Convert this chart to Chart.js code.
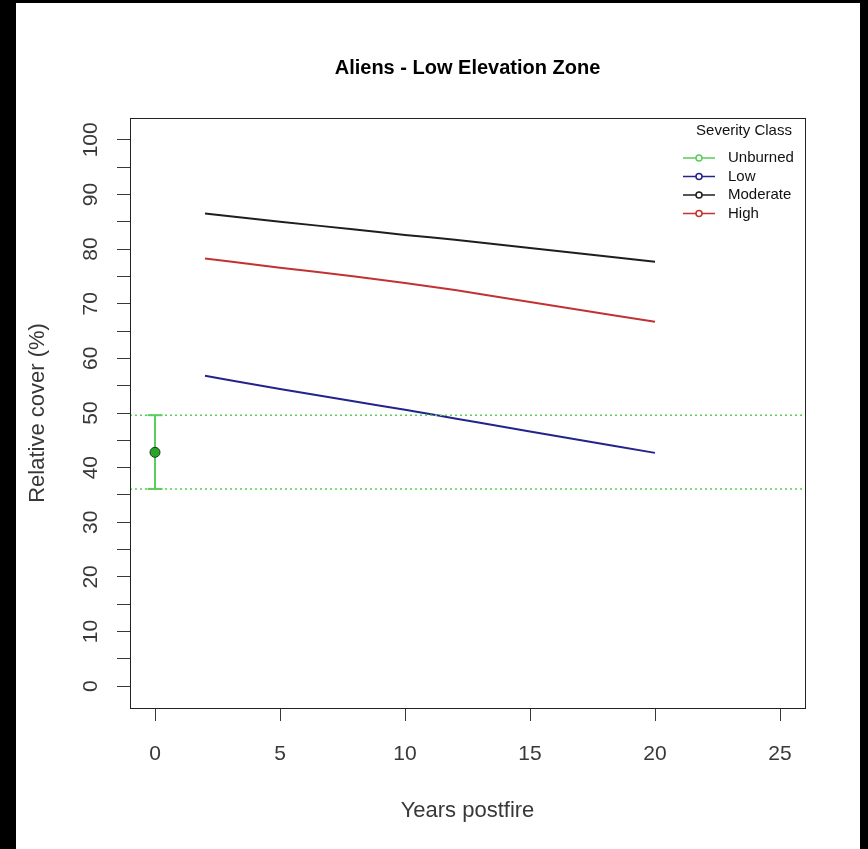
<!DOCTYPE html>
<html>
<head>
<meta charset="utf-8">
<script src="https://cdn.jsdelivr.net/npm/chart.js@4.4.1/dist/chart.umd.min.js"></script>
<style>
  html, body { margin: 0; padding: 0; background: #000; }
  #wrap { position: absolute; left: 16px; top: 3px; width: 844px; height: 846px; background: #fff; }
  canvas { display: block; }
</style>
</head>
<body>
<div id="wrap"><canvas id="coverChart" width="844" height="846"></canvas></div>
<script>
// values
const chartTitle = 'Aliens - Low Elevation Zone';
const fitYears = [2, 5, 8, 10, 12, 15, 20];
const lowCover = [56.8, 54.4, 52.1, 50.6, 49.0, 46.6, 42.7];
const moderateCover = [86.5, 85.0, 83.6, 82.6, 81.7, 80.2, 77.7];
const highCover = [78.3, 76.6, 75.0, 73.8, 72.5, 70.3, 66.7];
const unburnedYear = 0;
const unburnedMean = 42.8;
const unburnedCI = [36.1, 49.6];
const xLimits = [-1, 26];
const yLimits = [-4, 104];
const xTicks = [0, 5, 10, 15, 20, 25];
const yTicks = [0, 5, 10, 15, 20, 25, 30, 35, 40, 45, 50, 55, 60, 65, 70, 75, 80, 85, 90, 95, 100];
const legendTitle = 'Severity Class';
const legendLabels = ['Unburned', 'Low', 'Moderate', 'High'];
const legendColors = ['rgb(90,205,90)', 'rgb(35,35,140)', 'rgb(30,30,30)', 'rgb(195,50,50)'];

const pts = (xs, ys) => xs.map((x, i) => ({x: x, y: ys[i]}));

const tickFont = {family: "'Liberation Sans', Arial, sans-serif", size: 21};
const titleFont = {family: "'Liberation Sans', Arial, sans-serif", size: 22};
const inkGray = '#383838';

// plain box round the plot region, like R's box()
const boxPlugin = {
  id: 'box',
  afterDatasetsDraw(chart) {
    const a = chart.chartArea, c = chart.ctx;
    c.save();
    c.strokeStyle = '#222';
    c.lineWidth = 1;
    c.strokeRect(a.left + 0.5, a.top + 0.5, a.right - a.left, a.bottom - a.top);
    c.restore();
  }
};

// legend inside the top right corner
const legendPlugin = {
  id: 'rLegend',
  afterDraw(chart) {
    const c = chart.ctx;
    c.save();
    c.font = "15px 'Liberation Sans', Arial, sans-serif";
    c.fillStyle = '#111';
    c.textBaseline = 'middle';
    c.textAlign = 'center';
    c.fillText(legendTitle, 728, 128);
    c.textAlign = 'left';
    legendLabels.forEach((lab, i) => {
      const y = 155 + i * 18.5;
      c.strokeStyle = legendColors[i];
      c.lineWidth = 1.5;
      c.beginPath();
      c.moveTo(667, y);
      c.lineTo(699, y);
      c.stroke();
      c.beginPath();
      c.arc(683, y, 3, 0, Math.PI * 2);
      c.fillStyle = '#fff';
      c.fill();
      c.stroke();
      c.fillStyle = '#111';
      c.fillText(lab, 712, y);
    });
    c.restore();
  }
};

const ctx = document.getElementById('coverChart').getContext('2d');
new Chart(ctx, {
  type: 'line',
  data: {
    datasets: [{
      label: 'Unburned mean',
      data: [{x: unburnedYear, y: unburnedMean}],
      showLine: false,
      pointRadius: 5,
      pointBackgroundColor: 'rgb(40,165,40)',
      pointBorderColor: 'rgb(20,60,20)',
      pointBorderWidth: 1
    }, {
      label: 'Unburned CI',
      data: [{x: unburnedYear, y: unburnedCI[0]}, {x: unburnedYear, y: unburnedCI[1]}],
      borderColor: 'rgb(90,205,90)',
      borderWidth: 2,
      pointStyle: 'line',
      pointRadius: 7.5,
      pointBorderColor: 'rgb(90,205,90)',
      pointBorderWidth: 2
    }, {
      label: 'CI upper',
      data: [{x: xLimits[0], y: unburnedCI[1]}, {x: xLimits[1], y: unburnedCI[1]}],
      borderColor: 'rgb(90,205,90)',
      borderWidth: 1.5,
      borderDash: [2, 3],
      pointRadius: 0
    }, {
      label: 'CI lower',
      data: [{x: xLimits[0], y: unburnedCI[0]}, {x: xLimits[1], y: unburnedCI[0]}],
      borderColor: 'rgb(90,205,90)',
      borderWidth: 1.5,
      borderDash: [2, 3],
      pointRadius: 0
    }, {
      label: 'Low',
      data: pts(fitYears, lowCover),
      borderColor: legendColors[1],
      borderWidth: 2,
      cubicInterpolationMode: 'monotone',
      pointRadius: 0
    }, {
      label: 'Moderate',
      data: pts(fitYears, moderateCover),
      borderColor: legendColors[2],
      borderWidth: 2,
      cubicInterpolationMode: 'monotone',
      pointRadius: 0
    }, {
      label: 'High',
      data: pts(fitYears, highCover),
      borderColor: legendColors[3],
      borderWidth: 2,
      cubicInterpolationMode: 'monotone',
      pointRadius: 0
    }]
  },
  options: {
    responsive: false,
    animation: false,
    layout: {padding: {left: 0, right: 55, top: 0, bottom: 0}},
    plugins: {
      legend: {display: false},
      title: {display: false},
      tooltip: {enabled: false}
    },
    scales: {
      x: {
        type: 'linear',
        position: 'bottom',
        min: xLimits[0],
        max: xLimits[1],
        afterBuildTicks: s => { s.ticks = xTicks.map(v => ({value: v})); },
        afterFit: s => { s.height = 141; },
        grid: {display: true, drawOnChartArea: false, drawTicks: true, tickLength: 13, color: inkGray},
        border: {display: false},
        ticks: {color: inkGray, font: tickFont, padding: 21, maxRotation: 0, autoSkip: false},
        title: {display: true, text: 'Years postfire', color: inkGray, font: titleFont, padding: {top: 0, bottom: 25}}
      },
      xTop: {
        type: 'linear',
        position: 'top',
        min: xLimits[0],
        max: xLimits[1],
        afterFit: s => { s.height = 115; },
        grid: {display: false},
        border: {display: false},
        ticks: {display: false},
        title: {
          display: true,
          text: chartTitle,
          color: '#000',
          font: {family: "'Liberation Sans', Arial, sans-serif", size: 20, weight: 'bold'},
          padding: {top: 53, bottom: 0}
        }
      },
      y: {
        type: 'linear',
        position: 'left',
        min: yLimits[0],
        max: yLimits[1],
        afterBuildTicks: s => { s.ticks = yTicks.map(v => ({value: v})); },
        afterFit: s => { s.width = 114; },
        grid: {display: true, drawOnChartArea: false, drawTicks: true, tickLength: 13, color: inkGray},
        border: {display: false},
        ticks: {
          color: inkGray, font: tickFont, padding: 8, autoSkip: false,
          minRotation: 90, maxRotation: 90, crossAlign: 'center',
          callback: v => (v % 10 === 0 ? v : '')
        },
        title: {display: true, text: 'Relative cover (%)', color: inkGray, font: titleFont, padding: {top: 9, bottom: 0}}
      }
    }
  },
  plugins: [boxPlugin, legendPlugin]
});
</script>
</body>
</html>
